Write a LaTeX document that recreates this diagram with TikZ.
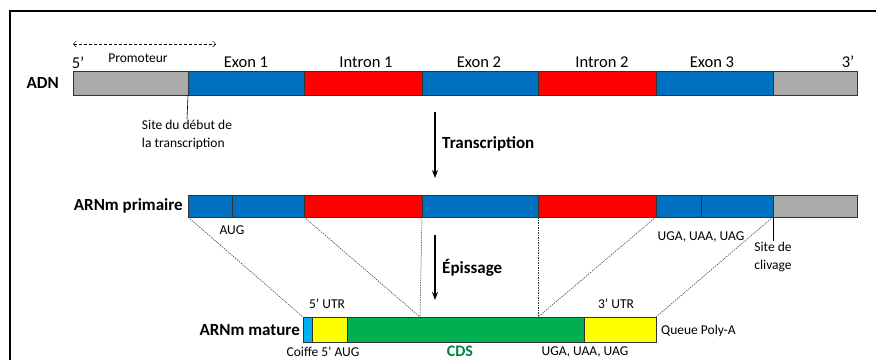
\documentclass[tikz,border=0pt]{standalone}
\usepackage{fontspec}
\setmainfont{Carlito}
\usepackage{tikz}
\usetikzlibrary{positioning, arrows.meta}

\definecolor{exonblue}{HTML}{0070C0}
\definecolor{intronred}{HTML}{FF0000}
\definecolor{greybox}{HTML}{ABABAB}
\definecolor{cdsgreen}{HTML}{00B050}
\definecolor{utryellow}{HTML}{FFFF00}
\definecolor{capblue}{HTML}{00B0F0}
\definecolor{cdstext}{HTML}{00803A}

\begin{document}
\begin{tikzpicture}[x=1pt, y=-1pt, every node/.style={inner sep=1pt},
    seg/.style={draw=black!80, line width=0.6pt, anchor=west, inner sep=0pt, outer sep=0pt, minimum height=#1},
    seg/.default=24pt,
    lbl/.style={font=\fontsize{16.5}{19}\selectfont},
    note/.style={font=\fontsize{13.5}{18}\selectfont},
    rowname/.style={font=\fontsize{17}{20}\selectfont\bfseries},
    splice/.style={dash pattern=on 1.5pt off 1pt, line width=0.5pt, black!80},
    step arrow/.style={-{Stealth[length=8pt, width=6pt]}, line width=1.3pt}]

    \useasboundingbox (0,0) rectangle (876,360);

    % 1. 外框 (左边和上边)
    \draw[line width=1.6pt] (10,360) |- (876,11);

    % 2. ADN
    \node[rowname, anchor=east] (adn) at (60,83) {ADN};
    \node[seg, fill=greybox, minimum width=115pt] (g1) at (73,83) {};
    \node[seg, fill=exonblue, minimum width=116pt, right=0pt of g1] (e1) {};
    \node[seg, fill=intronred, minimum width=118pt, right=0pt of e1] (i1) {};
    \node[seg, fill=exonblue, minimum width=116pt, right=0pt of i1] (e2) {};
    \node[seg, fill=intronred, minimum width=118pt, right=0pt of e2] (i2) {};
    \node[seg, fill=exonblue, minimum width=117pt, right=0pt of i2] (e3) {};
    \node[seg, fill=greybox, minimum width=84pt, right=0pt of e3] (g2) {};

    % 外显子 / 内含子 标签
    \node[lbl] (five) at (78,63) {5’};
    \node[lbl] (three) at (848,62) {3’};
    \node[lbl] (e1lbl) at (246,62) {Exon 1};
    \node[lbl] (i1lbl) at (366,62) {Intron 1};
    \node[lbl] (e2lbl) at (479,62) {Exon 2};
    \node[lbl] (i2lbl) at (602,62) {Intron 2};
    \node[lbl] (e3lbl) at (712,62) {Exon 3};

    % 启动子范围
    \node[note] (prom) at (138,58) {Promoteur};
    \coordinate (pa) at (73,44);
    \coordinate (pb) at (216,44);
    \draw[densely dashed, line width=0.5pt, {Straight Barb[length=3pt]}-{Straight Barb[length=3pt]}] (pa) -- (pb);

    % 转录起始位点
    \node[note, align=left, anchor=north] (site) at (187,119) {Site du début de\\la transcription};
    \draw[line width=0.6pt] (e1.south west) -- (site.north);

    % 3. 转录箭头
    \coordinate (t1) at (435,112);
    \coordinate (t2) at (435,178);
    \draw[step arrow] (t1) -- (t2);
    \node[rowname, anchor=west] (trans) at (441,144) {Transcription};

    % 4. ARNm primaire
    \node[rowname, anchor=east] (pre) at (184,206) {ARNm primaire};
    \node[seg=22pt, fill=exonblue, minimum width=44pt] (pe1a) at (188,206) {};
    \node[seg=22pt, fill=exonblue, minimum width=72pt, right=0pt of pe1a] (pe1b) {};
    \node[seg=22pt, fill=intronred, minimum width=118pt, right=0pt of pe1b] (pi1) {};
    \node[seg=22pt, fill=exonblue, minimum width=116pt, right=0pt of pi1] (pe2) {};
    \node[seg=22pt, fill=intronred, minimum width=118pt, right=0pt of pe2] (pi2) {};
    \node[seg=22pt, fill=exonblue, minimum width=45pt, right=0pt of pi2] (pe3a) {};
    \node[seg=22pt, fill=exonblue, minimum width=72pt, right=0pt of pe3a] (pe3b) {};
    \node[seg=22pt, fill=greybox, minimum width=84pt, right=0pt of pe3b] (pg) {};

    \node[note] (aug) at (232,230) {AUG};
    \node[note] (stop1) at (701,237) {UGA, UAA, UAG};

    % 切割位点
    \node[note, align=center, anchor=north] (clv) at (773,241) {Site de\\clivage};
    \draw[line width=0.6pt] (pg.south west) -- (clv.north);

    % 5. 剪接箭头
    \coordinate (s1) at (435,235);
    \coordinate (s2) at (435,300);
    \draw[step arrow] (s1) -- (s2);
    \node[rowname, anchor=west] (splice) at (441,268) {Épissage};

    % 6. ARNm mature
    \node[rowname, anchor=east] (mat) at (301,330) {ARNm mature};
    \node[seg=25pt, fill=capblue, minimum width=9pt] (mcap) at (303,329.5) {};
    \node[seg=25pt, fill=utryellow, minimum width=35pt, right=0pt of mcap] (m5) {};
    \node[seg=25pt, fill=cdsgreen, minimum width=237pt, right=0pt of m5] (mcds) {};
    \node[seg=25pt, fill=utryellow, minimum width=72pt, right=0pt of mcds] (m3) {};

    \node[note] (utr5) at (327,304) {5’ UTR};
    \node[note] (utr3) at (616,304) {3’ UTR};
    \node[note, anchor=west] (polya) at (660,331) {Queue Poly-A};
    \node[note] (coiffe) at (323,352) {Coiffe 5’ AUG};
    \node[rowname, text=cdstext, font=\fontsize{16}{18}\selectfont\bfseries] (cds) at (460,351) {CDS};
    \node[note] (stop2) at (585,352) {UGA, UAA, UAG};

    % 连接虚线
    \coordinate (j1) at (420,317);
    \coordinate (j2) at (538,317);
    \draw[splice] (pe1a.south west) -- (mcap.north west);
    \draw[splice] (pi1.south west) -- (j1);
    \draw[splice] (pi1.south east) -- (j1);
    \draw[splice] (pi2.south west) -- (j2);
    \draw[splice] (pi2.south east) -- (j2);
    \draw[splice] (pg.south west) -- (m3.north east);

\end{tikzpicture}
\end{document}
